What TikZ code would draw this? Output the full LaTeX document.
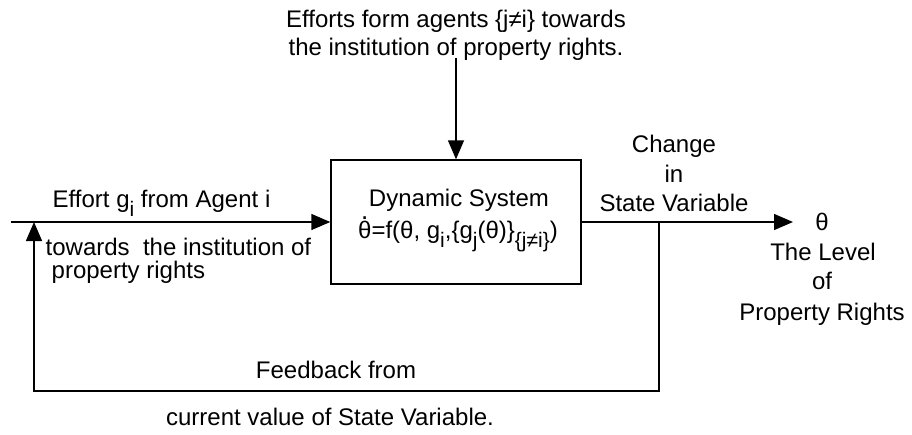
\documentclass[tikz,border=0pt]{standalone}
\usepackage{fontspec}
\setmainfont{Liberation Sans}
\usetikzlibrary{arrows.meta}
\newcommand\lowsub[1]{\raisebox{-9pt}{\fontsize{21}{21}\selectfont #1}}
\newcommand\thetadot{\makebox[0pt][l]{\hspace{3pt}\raisebox{19pt}{\fontsize{26}{26}\selectfont .}}θ}
\begin{document}
\begin{tikzpicture}[x=1pt,y=-1pt,line width=1.4pt,
  arr/.style={-{Triangle[length=19pt,width=16pt]}},
  lbl/.style={inner sep=0pt,anchor=base,font=\fontsize{24}{29}\selectfont},
  lbll/.style={lbl,anchor=base west}]
\useasboundingbox (0,0) rectangle (912,434);
\node[draw,minimum width=250pt,minimum height=124pt,inner sep=0pt] (sys) at (456,222) {};
\coordinate (in) at (11,222);
\coordinate (src) at (456,58);
\coordinate (tap) at (659,222);
\coordinate (out) at (793,222);
\coordinate (br) at (659,391);
\coordinate (bl) at (34,391);
\coordinate (join) at (34,222);
\draw[arr] (in) -- (sys.west);
\draw[arr] (src) -- (sys.north);
\draw[arr] (sys.east) -- (out);
\draw[arr] (tap) -- (br) -- (bl) -- (join);
\node[lbl] (t1) at (456,27) {Efforts form agents \{j≠i\} towards};
\node[lbl] (t2) at (456,55) {the institution of property rights.};
\node[lbl] (d1) at (459,206) {Dynamic System};
\node[lbl] (d2) at (458,238) {\thetadot=f(θ, g\lowsub{i},\{g\lowsub{j}(θ)\}\lowsub{\{j≠i\}})};
\node[lbll] (e1) at (52,207) {Effort g\lowsub{i} from Agent i};
\node[lbll] (e2) at (45,255) {towards\ \ the institution of};
\node[lbll] (e3) at (51,278) {property rights};
\node[lbl] (c1) at (674,152) {Change};
\node[lbl] (c2) at (674,182) {in};
\node[lbl] (c3) at (674,211) {State Variable};
\node[lbl] (th) at (822,230) {θ};
\node[lbl] (l1) at (823,260) {The Level};
\node[lbl] (l2) at (822,289) {of};
\node[lbl] (l3) at (822,320) {Property Rights};
\node[lbl] (f1) at (336,378) {Feedback from};
\node[lbl] (f2) at (330,425) {current value of State Variable.};
\end{tikzpicture}
\end{document}
